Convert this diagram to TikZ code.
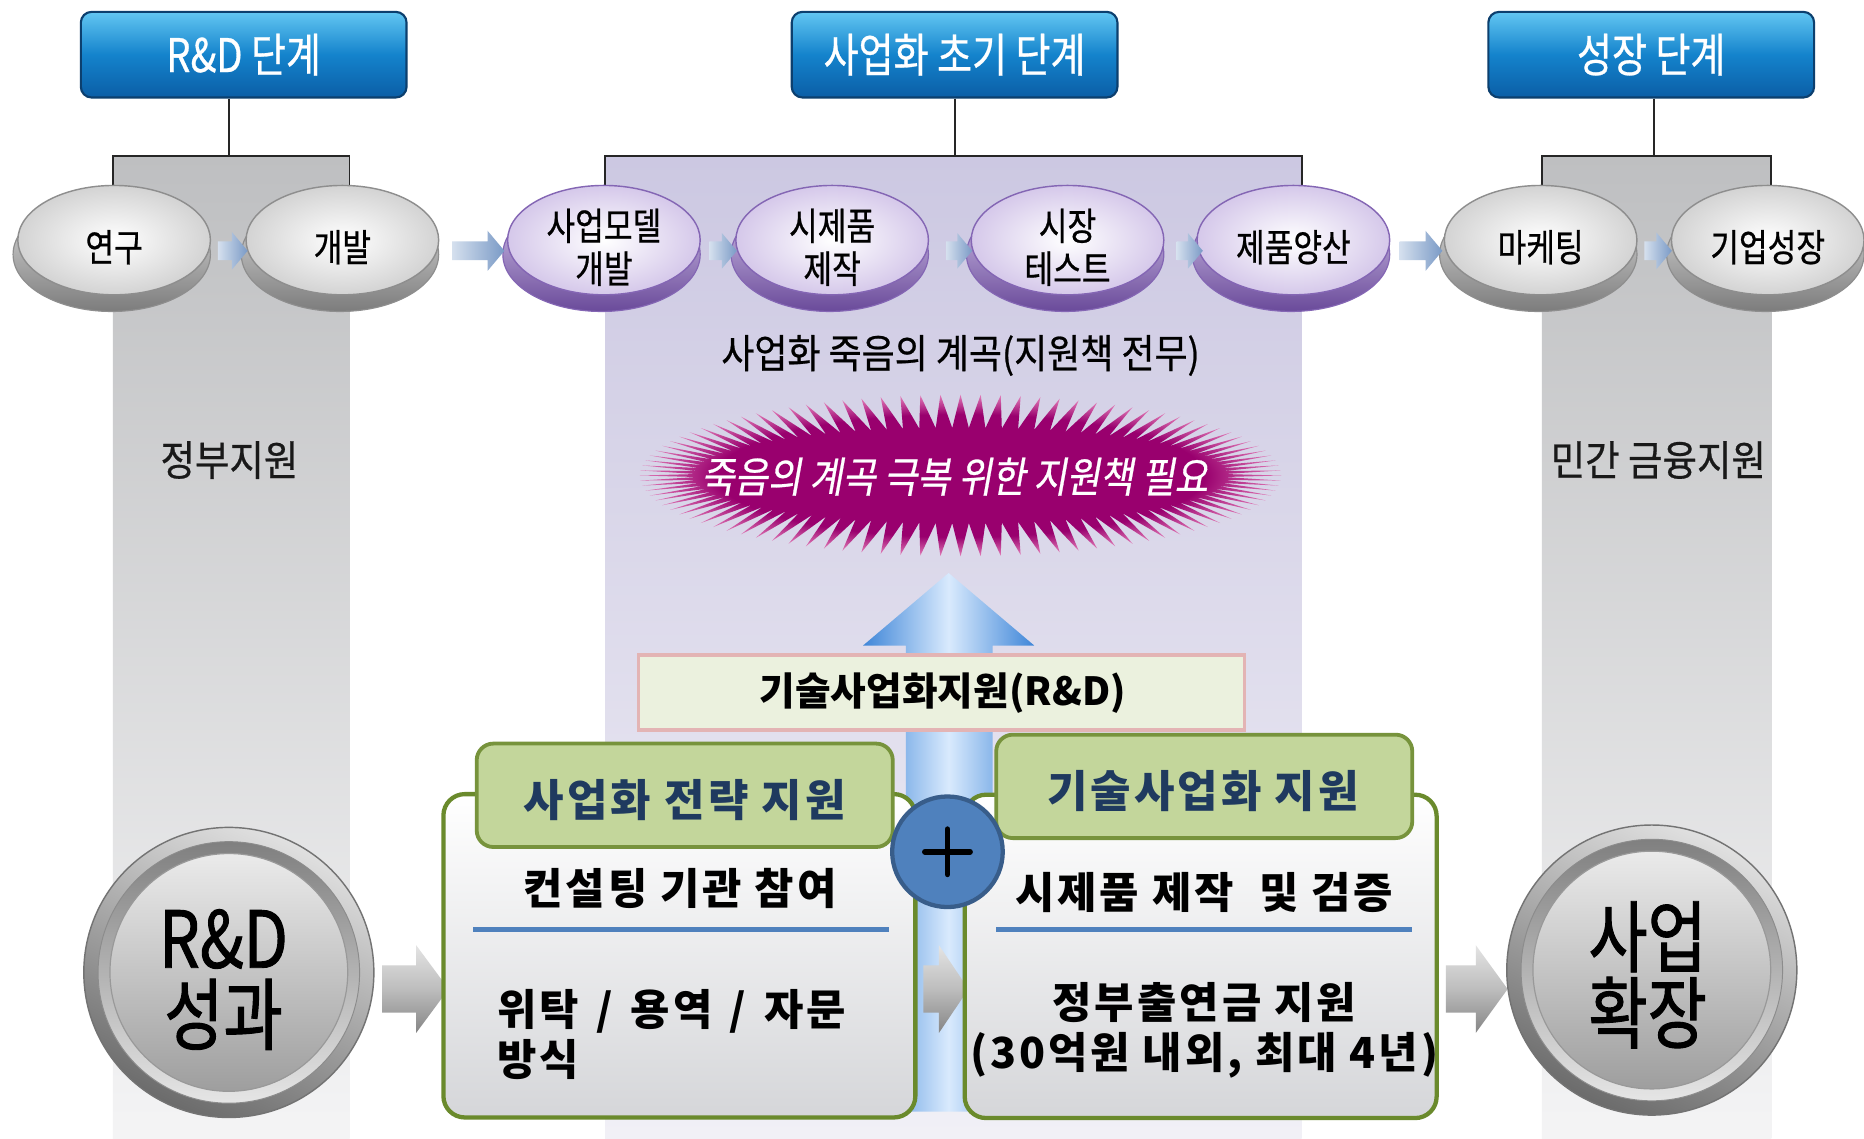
\documentclass[tikz,border=0pt]{standalone}
\usepackage{fontspec}
\usetikzlibrary{calc,shapes.geometric,shapes.arrows}
\setmainfont{Noto Sans CJK KR}
\newfontfamily\krn{Noto Sans CJK KR}[FakeStretch=0.82,FakeBold=0.6]
\newfontfamily\krm{Noto Sans CJK KR}[FakeStretch=0.9,FakeBold=0.6]
\newfontfamily\kri{Noto Sans CJK KR}[FakeStretch=0.86,FakeSlant=0.18,FakeBold=0.6]
\newfontfamily\krs{Noto Sans CJK KR}[LetterSpace=7]
\newfontfamily\krbig{Noto Sans CJK KR}[FakeStretch=0.82,FakeBold=1.2]

\definecolor{hbTop}{HTML}{62C6F2}
\definecolor{hbMid}{HTML}{1483CC}
\definecolor{hbBot}{HTML}{0B5EA6}
\definecolor{hbLine}{HTML}{0C3F6E}
\definecolor{gpTop}{HTML}{BEBFC1}
\definecolor{gpBot}{HTML}{F4F4F5}
\definecolor{lvTop}{HTML}{CCC8E2}
\definecolor{lvBot}{HTML}{F1F0F6}
\definecolor{gRimT}{HTML}{E2E2E2}
\definecolor{gRimB}{HTML}{7C7C7C}
\definecolor{gEdge}{HTML}{8E8E8E}
\definecolor{gFace}{HTML}{D3D3D3}
\definecolor{pRimT}{HTML}{D9CCEE}
\definecolor{pRimB}{HTML}{6A4A9A}
\definecolor{pEdge}{HTML}{8466B4}
\definecolor{pFace}{HTML}{D5C8EA}
\definecolor{saL}{HTML}{D5E0EE}
\definecolor{saR}{HTML}{7A9AC6}
\definecolor{bM}{HTML}{99006E}
\definecolor{bL}{HTML}{E27CB8}
\definecolor{arB}{HTML}{3F86D8}
\definecolor{arW}{HTML}{D9EAFD}
\definecolor{rdFill}{HTML}{EBF1DE}
\definecolor{rdLine}{HTML}{E3B4B4}
\definecolor{gbLine}{HTML}{6A8A2C}
\definecolor{tabFill}{HTML}{C3D69B}
\definecolor{tabLine}{HTML}{77933C}
\definecolor{tabText}{HTML}{1F3A5F}
\definecolor{blLine}{HTML}{4F81BD}
\definecolor{plFill}{HTML}{4F81BD}
\definecolor{plLine}{HTML}{385D8A}
\definecolor{boxBot}{HTML}{D5D6D9}
\definecolor{gaT}{HTML}{E4E4E4}
\definecolor{gaM}{HTML}{BDBDBD}
\definecolor{gaB}{HTML}{858585}

\pgfdeclareradialshading{burstsh}{\pgfpoint{0bp}{0bp}}{color(0bp)=(bM); color(19bp)=(bM); color(25bp)=(bL); color(50bp)=(bL)}

\newcommand\mydisc[5]{%
  \node[#3rim] (#1r) at ({#2-2},214) {};
  \node[#3face] (#1) at (#2,202) {};
  \node[dlabel] (#1t) at (#2,208) {#4#5};}

\begin{document}
\begin{tikzpicture}[x=0.5pt,y=-0.5pt,
  hdr/.style={draw=hbLine, line width=0.9pt, rounded corners=4.5pt, top color=hbTop, bottom color=hbBot, middle color=hbMid, minimum width=137pt, minimum height=36pt, inner sep=0pt, text=white, font=\krn\fontsize{19.5}{22}\selectfont},
  panelline/.style={draw=black!85, line width=0.8pt},
  conn/.style={draw=black!85, line width=0.8pt},
  grayrim/.style={ellipse, inner sep=0pt, minimum width=83pt, minimum height=48pt, draw=gEdge, line width=0.5pt, top color=gRimT, bottom color=gRimB},
  grayface/.style={ellipse, inner sep=0pt, minimum width=81pt, minimum height=46pt, draw=gEdge, line width=0.6pt, inner color=white, outer color=gFace},
  purprim/.style={ellipse, inner sep=0pt, minimum width=83pt, minimum height=48pt, draw=pEdge, line width=0.5pt, top color=pRimT, bottom color=pRimB},
  purpface/.style={ellipse, inner sep=0pt, minimum width=81pt, minimum height=46pt, draw=pEdge, line width=0.6pt, inner color=white, outer color=pFace},
  dlabel/.style={font=\krn\fontsize{16}{18}\selectfont, align=center, text=black, inner sep=0pt},
  sarr/.style={single arrow, inner xsep=0pt, inner ysep=3.75pt, single arrow tip angle=100, left color=saL, right color=saR},
  garr/.style={single arrow, inner xsep=0pt, inner ysep=9.75pt, single arrow head extend=8.5pt, top color=gaT, bottom color=gaB, middle color=gaM},
  sidetxt/.style={font=\krm\fontsize{17.5}{20}\selectfont, text=black!90, inner sep=0pt},
  gbox/.style={draw=gbLine, line width=1.8pt, rounded corners=9pt, top color=white, bottom color=boxBot, minimum width=198.5pt, minimum height=136pt, inner sep=0pt},
  tab/.style={draw=tabLine, line width=1.6pt, rounded corners=7pt, fill=tabFill, minimum width=175pt, minimum height=43.5pt, inner sep=0pt},
  tabtxt/.style={font=\krs\bfseries\fontsize{18.5}{21}\selectfont, text=tabText, inner sep=0pt},
  btxt/.style={font=\krs\bfseries\fontsize{18}{21}\selectfont, text=black, inner sep=0pt},
  bline/.style={draw=blLine, line width=2pt},
  bigO/.style={circle, inner sep=0pt, minimum size=122pt, draw=black!55, line width=0.6pt, top color=white!88!black, bottom color=black!58, shading angle=-25},
  bigM/.style={circle, inner sep=0pt, minimum size=110pt, draw=black!45, line width=0.4pt, top color=black!50, bottom color=black!10},
  bigF/.style={circle, inner sep=0pt, minimum size=100pt, draw=black!40, line width=0.5pt, top color=black!8, bottom color=black!38},
  bigtxt/.style={font=\krbig\fontsize{33}{32}\selectfont, align=center, text=black, inner sep=0pt}
]
\useasboundingbox (0,0) rectangle (1568,958);
\fill[white] (0,0) rectangle (1568,958);

% background panels
\shade[top color=gpTop, bottom color=gpBot] (95,131) rectangle (294,958);
\shade[top color=lvTop, bottom color=lvBot] (509,131) rectangle (1095,958);
\shade[top color=gpTop, bottom color=gpBot] (1297,131) rectangle (1490,958);
\draw[panelline] (95,175) -- (95,131) -- (294,131) -- (294,175);
\draw[panelline] (509,175) -- (509,131) -- (1095,131) -- (1095,175);
\draw[panelline] (1297,175) -- (1297,131) -- (1490,131) -- (1490,175);

% headers
\node[hdr] (h1) at (205,46) {R\&D 단계};
\node[hdr] (h2) at (803,46) {사업화 초기 단계};
\node[hdr] (h3) at (1389,46) {성장 단계};
\coordinate (c1) at (193,131);
\coordinate (c2) at (803,131);
\coordinate (c3) at (1391,131);
\draw[conn] (h1.south -| c1) -- (c1);
\draw[conn] (h2.south -| c2) -- (c2);
\draw[conn] (h3.south -| c3) -- (c3);

% discs
\mydisc{d1}{96}{gray}{연구}{}
\mydisc{d2}{288}{gray}{개발}{}
\mydisc{d3}{508}{purp}{사업모델\\}{개발}
\mydisc{d4}{700}{purp}{시제품\\}{제작}
\mydisc{d5}{898}{purp}{시장\\}{테스트}
\mydisc{d6}{1088}{purp}{제품양산}{}
\mydisc{d7}{1296}{gray}{마케팅}{}
\mydisc{d8}{1487}{gray}{기업성장}{}

% small arrows between discs
\node[sarr, minimum height=12.5pt, single arrow head extend=4pt] (a1) at (192.5,211) {};
\node[sarr, minimum height=22pt, single arrow head extend=4.5pt] (a2) at (399,211) {};
\node[sarr, minimum height=11.5pt, single arrow head extend=3.5pt] (a3) at (605,211) {};
\node[sarr, minimum height=11pt, single arrow head extend=3.5pt] (a4) at (803.5,211) {};
\node[sarr, minimum height=11pt, single arrow head extend=3.5pt] (a5) at (997.5,211) {};
\node[sarr, minimum height=18pt, single arrow head extend=4.5pt] (a6) at (1192,211) {};
\node[sarr, minimum height=11.5pt, single arrow head extend=3.75pt] (a7) at (1391.5,211) {};

% side texts
\node[sidetxt] (t1) at (193,387) {정부지원};
\node[sidetxt] (t2) at (1395,387) {민간 금융지원};
\node[font=\krm\fontsize{16.8}{20}\selectfont, inner sep=0pt] (t3) at (808,299) {사업화 죽음의 계곡(지원책 전무)};

% starburst
\shade[shading=burstsh] (1078,400) \foreach \i in {1,...,199} { -- ({808+(246+24*cos(mod(\i,2)*180))*cos(\i*1.8)}, {400+(54+14*cos(mod(\i,2)*180))*sin(\i*1.8)}) } -- cycle;
\node[font=\kri\fontsize{17.7}{20}\selectfont, text=white, inner sep=0pt] (bt) at (803,401) {죽음의 계곡 극복 위한 지원책 필요};

% blue up arrow
\shade[left color=arB, right color=arB, middle color=arW] (762,935) -- (762,543) -- (726,543) -- (798,482) -- (870,543) -- (835,543) -- (835,935) -- cycle;

% R&D support box
\node[draw=rdLine, line width=1.5pt, fill=rdFill, minimum width=255pt, minimum height=31.5pt, inner sep=0pt] (rdb) at (792,582.5) {};
\node[font=\bfseries\fontsize{16.3}{19}\selectfont, inner sep=0pt] (rdbt) at (793,583) {기술사업화지원(R\&D)};

% gray block arrows (under boxes/circles)
\node[garr, minimum height=28pt, single arrow tip angle=107] (g1) at (342,832) {};
\node[garr, minimum height=19pt, single arrow tip angle=112] (g2) at (789,832) {};
\node[garr, minimum height=26pt, single arrow tip angle=108] (g3) at (1235,832) {};

% green boxes
\node[gbox] (lbox) at (571.5,804) {};
\node[gbox] (rbox) at (1010,804.5) {};
\node[tab] (ltab) at (576,669) {};
\node[tab] (rtab) at (1013,661.5) {};
\node[tabtxt] (ltt) at (576,673) {사업화 전략 지원};
\node[tabtxt] (rtt) at (1012,665) {기술사업화 지원};

\coordinate (ls1) at (398,782);
\coordinate (ls2) at (748,782);
\coordinate (rs1) at (838,782);
\coordinate (rs2) at (1188,782);
\draw[bline] (ls1) -- (ls2);
\draw[bline] (rs1) -- (rs2);

\node[btxt] (lt1) at (572,747) {컨설팅 기관 참여};
\node[btxt, align=left, anchor=west] (lt2) at (418,870) {위탁\hspace{2pt} / \hspace{2pt}용역\hspace{2pt} / \hspace{2pt}자문\\방식};
\node[btxt] (rt1) at (1013,751) {시제품 제작\ \ 및 검증};
\node[btxt, align=center] (rt2) at (1013,867) {정부출연금 지원\\(30억원 내외, 최대 4년)};

% plus circle
\node[circle, fill=plFill, draw=plLine, line width=1.8pt, minimum size=46.5pt, inner sep=0pt] (pl) at (797,716.5) {};
\draw[line width=2.4pt, line cap=round] (pl.center) ++(-19,0) -- ++(38,0);
\draw[line width=2.4pt, line cap=round] (pl.center) ++(0,-19) -- ++(0,38);

% big circles
\node[bigO] (rdO) at (192.5,818) {};
\node[bigM] (rdM) at (192.5,818) {};
\node[bigF] (rdF) at (192.5,818) {};
\node[bigtxt] (rdT) at (188,824) {R\&D\\성과};
\node[bigO] (exO) at (1389.5,816) {};
\node[bigM] (exM) at (1389.5,816) {};
\node[bigF] (exF) at (1389.5,816) {};
\node[bigtxt] (exT) at (1386,820) {사업\\확장};
\end{tikzpicture}
\end{document}
